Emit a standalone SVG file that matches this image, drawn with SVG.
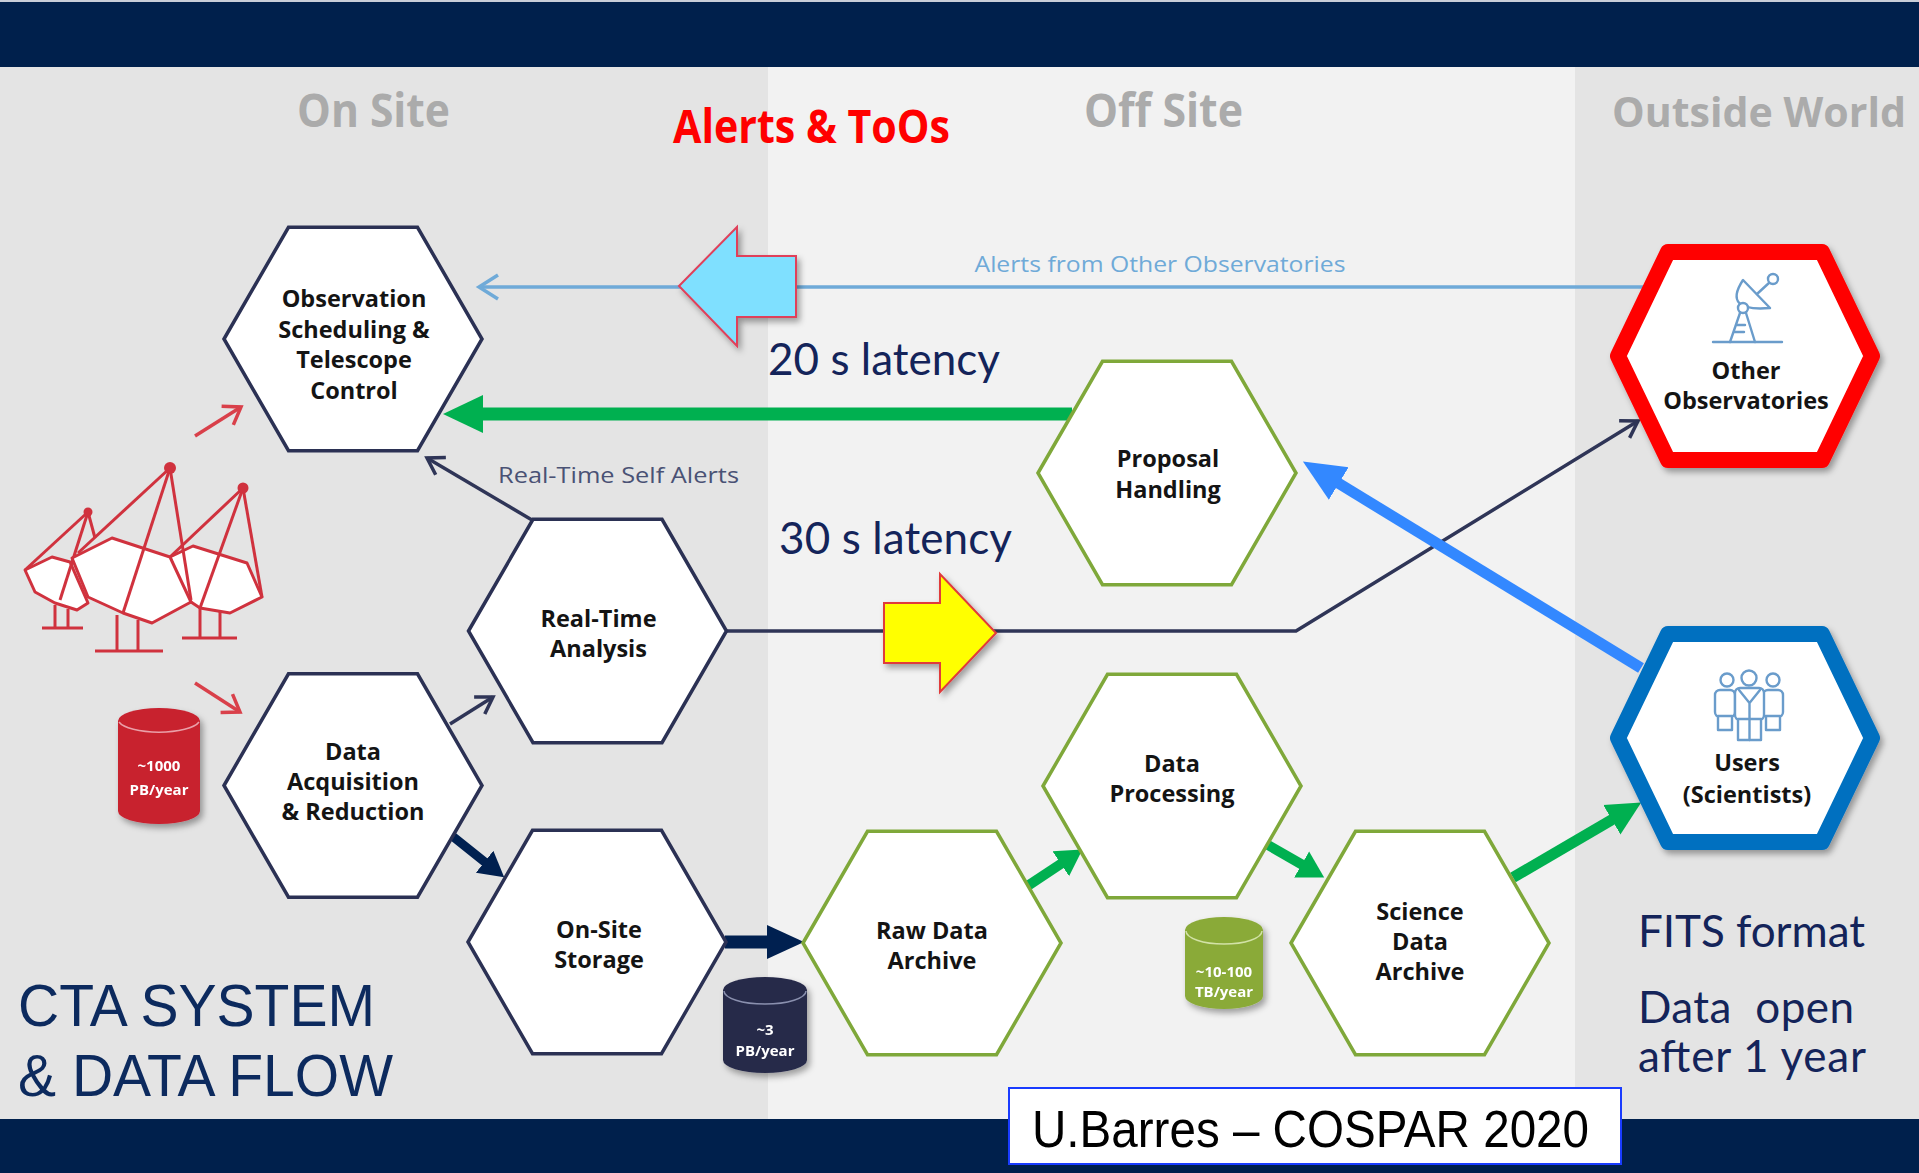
<svg xmlns="http://www.w3.org/2000/svg" width="1919" height="1173" viewBox="0 0 1919 1173">
  <style>
    .zone-text { font-family: "Open Sans", "Noto Sans", sans-serif; font-weight: 700; font-size: 46px; fill: #ABABAB; text-anchor: middle; }
    .node-text { font-family: "Open Sans", "Noto Sans", sans-serif; font-weight: 700; font-size: 23.5px; fill: #141414; text-anchor: middle; }
    .onsite { fill: #FFFFFF; stroke: #2B3154; stroke-width: 3.5; stroke-linejoin: miter; }
    .offsite { fill: #FFFFFF; stroke: #7FA83A; stroke-width: 3.5; }
    .big-text { font-family: Lato, "Open Sans", sans-serif; font-size: 44px; fill: #14245A; }
    .small-label { font-family: "Open Sans", "Noto Sans", sans-serif; font-size: 22px; }
    .cyl-text { font-family: "Open Sans", "Noto Sans", sans-serif; font-weight: 700; font-size: 15px; fill: #FFFFFF; text-anchor: middle; }
    .thin-navy { fill: none; stroke: #2F3557; stroke-width: 3.5; }
    .thin-red { fill: none; stroke: #D9404A; stroke-width: 3.5; }
    .scope { fill: #FFFFFF; stroke: #D0323E; stroke-width: 3; stroke-linejoin: round; }
    .scope-line { fill: none; stroke: #D0323E; stroke-width: 3; }
    .icon { fill: #FFFFFF; stroke: #6A9CCB; stroke-width: 2.4; stroke-linejoin: round; stroke-linecap: round; }
  </style>
  <defs>
    <polygon id="hex" points="-129,0 -64.5,-111.7 64.5,-111.7 129,0 64.5,111.7 -64.5,111.7"/>
    <polygon id="hex-ext" points="-127,0 -77,-104 77,-104 127,0 77,104 -77,104"/>
    <filter id="shadow" x="-20%" y="-20%" width="150%" height="150%">
      <feDropShadow dx="3" dy="4" stdDeviation="3" flood-color="#000000" flood-opacity="0.35"/>
    </filter>
    <!-- open chevron heads -->
    <marker id="chev-navy" markerUnits="userSpaceOnUse" markerWidth="26" markerHeight="26" viewBox="-4 -13 26 26" refX="16" refY="0" orient="auto">
      <path d="M0,-10 L16,0 L0,10" fill="none" stroke="#2F3557" stroke-width="3.5"/>
    </marker>
    <marker id="chev-blue" markerUnits="userSpaceOnUse" markerWidth="28" markerHeight="30" viewBox="-4 -15 28 30" refX="19" refY="0" orient="auto">
      <path d="M0,-12 L19,0 L0,12" fill="none" stroke="#6FAAD8" stroke-width="3.5"/>
    </marker>
    <marker id="chev-red" markerUnits="userSpaceOnUse" markerWidth="26" markerHeight="28" viewBox="-4 -14 26 28" refX="16" refY="0" orient="auto">
      <path d="M0,-11 L16,0 L0,11" fill="none" stroke="#D9404A" stroke-width="3.5"/>
    </marker>
    <!-- filled heads, placed at the end of the shaft -->
    <marker id="head-green-l" markerUnits="userSpaceOnUse" markerWidth="44" markerHeight="44" viewBox="0 -22 44 44" refX="1" refY="0" orient="auto">
      <path d="M0,-19 L40,0 L0,19 Z" fill="#00B050"/>
    </marker>
    <marker id="head-green-m" markerUnits="userSpaceOnUse" markerWidth="38" markerHeight="40" viewBox="0 -20 38 40" refX="1" refY="0" orient="auto">
      <path d="M0,-17 L34,0 L0,17 Z" fill="#00B050"/>
    </marker>
    <marker id="head-green-s" markerUnits="userSpaceOnUse" markerWidth="30" markerHeight="34" viewBox="0 -17 30 34" refX="1" refY="0" orient="auto">
      <path d="M0,-15 L26,0 L0,15 Z" fill="#00B050"/>
    </marker>
    <marker id="head-navy-s" markerUnits="userSpaceOnUse" markerWidth="30" markerHeight="32" viewBox="0 -16 30 32" refX="1" refY="0" orient="auto">
      <path d="M0,-14 L25,0 L0,14 Z" fill="#002050"/>
    </marker>
    <marker id="head-navy-m" markerUnits="userSpaceOnUse" markerWidth="40" markerHeight="38" viewBox="0 -19 40 38" refX="1" refY="0" orient="auto">
      <path d="M0,-17 L37,0 L0,17 Z" fill="#002050"/>
    </marker>
    <marker id="head-blue" markerUnits="userSpaceOnUse" markerWidth="46" markerHeight="44" viewBox="0 -22 46 44" refX="1" refY="0" orient="auto">
      <path d="M0,-19 L42,0 L0,19 Z" fill="#3388FF"/>
    </marker>
  </defs>

  <!-- page background and bands -->
  <g id="background">
    <rect x="0" y="0" width="1919" height="1173" fill="#F2F2F2"/>
    <rect x="0" y="67" width="768" height="1052" fill="#E4E4E4"/>
    <rect x="1575" y="67" width="344" height="1052" fill="#E4E4E4"/>
    <rect x="0" y="0" width="1919" height="67" fill="#00204C"/>
    <rect x="0" y="0" width="1919" height="2" fill="#C9CED8"/>
    <rect x="0" y="1119" width="1919" height="54" fill="#00204C"/>
  </g>

  <!-- zone headings -->
  <g id="headings">
    <text class="zone-text" x="373.5" y="127" textLength="153" lengthAdjust="spacingAndGlyphs">On Site</text>
    <text class="zone-text" x="1163.5" y="127" textLength="159" lengthAdjust="spacingAndGlyphs">Off Site</text>
    <text class="zone-text" x="1759" y="127" textLength="294" lengthAdjust="spacingAndGlyphs" style="font-size:42px">Outside World</text>
    <text class="zone-text" x="811.5" y="143" textLength="277" lengthAdjust="spacingAndGlyphs" style="fill:#FF0000">Alerts &amp; ToOs</text>
  </g>

  <!-- telescope array -->
  <g id="telescopes">
    <!-- left small dish -->
    <polygon class="scope" points="25,570 52,557 70,562 88,603 77,610 55,603 35,592"/>
    <line class="scope-line" x1="88" y1="512" x2="25" y2="570"/>
    <line class="scope-line" x1="88" y1="512" x2="60" y2="600"/>
    <line class="scope-line" x1="88" y1="512" x2="95" y2="538"/>
    <circle cx="88" cy="512" r="4.5" fill="#D0323E"/>
    <path class="scope-line" d="M55,605 V628 M68,609 V628 M42,628 H83"/>
    <!-- right dish -->
    <polygon class="scope" points="170,557 193,546 247,563 262,597 230,613 200,608 185,598"/>
    <line class="scope-line" x1="243" y1="488" x2="170" y2="557"/>
    <line class="scope-line" x1="243" y1="488" x2="200" y2="608"/>
    <line class="scope-line" x1="243" y1="488" x2="262" y2="597"/>
    <circle cx="243" cy="488" r="5.5" fill="#D0323E"/>
    <path class="scope-line" d="M200,608 V638 M220,612 V638 M182,638 H237"/>
    <!-- middle large dish -->
    <polygon class="scope" points="72,558 112,538 170,557 191,602 152,623 123,613 88,597"/>
    <line class="scope-line" x1="170" y1="468" x2="78" y2="553"/>
    <line class="scope-line" x1="170" y1="468" x2="123" y2="613"/>
    <line class="scope-line" x1="170" y1="468" x2="191" y2="600"/>
    <circle cx="170" cy="468" r="6" fill="#D0323E"/>
    <path class="scope-line" d="M117,615 V651 M138,620 V651 M95,651 H163"/>
  </g>

  <!-- storage volume cylinders -->
  <g id="cylinders">
    <g id="cyl-raw" filter="url(#shadow)">
      <path d="M118,721 A41,13 0 0 1 200,721 V811 A41,13 0 0 1 118,811 Z" fill="#C8202F"/>
      <path d="M119,722 A41,13 0 0 0 199,722" fill="none" stroke="#EAA0A8" stroke-width="1.5"/>
      <text class="cyl-text" x="159" y="771">~1000</text>
      <text class="cyl-text" x="159" y="795">PB/year</text>
    </g>
    <g id="cyl-onsite" filter="url(#shadow)">
      <path d="M723,990 A42,13 0 0 1 807,990 V1060 A42,13 0 0 1 723,1060 Z" fill="#262A4A"/>
      <path d="M724,991 A41,13 0 0 0 806,991" fill="none" stroke="#8A90AE" stroke-width="1.5"/>
      <text class="cyl-text" x="765" y="1035">~3</text>
      <text class="cyl-text" x="765" y="1056">PB/year</text>
    </g>
    <g id="cyl-science" filter="url(#shadow)">
      <path d="M1185,930 A39,13 0 0 1 1263,930 V996 A39,13 0 0 1 1185,996 Z" fill="#8AAA38"/>
      <path d="M1186,931 A38,13 0 0 0 1262,931" fill="none" stroke="#D2E2A6" stroke-width="1.5"/>
      <text class="cyl-text" x="1224" y="977">~10-100</text>
      <text class="cyl-text" x="1224" y="997">TB/year</text>
    </g>
  </g>

  <!-- connectors -->
  <g id="connectors">
    <!-- alerts from other observatories -->
    <line x1="1652" y1="287" x2="479" y2="287" stroke="#6FAAD8" stroke-width="3.5" marker-end="url(#chev-blue)"/>
    <text class="small-label" x="1160" y="272" text-anchor="middle" textLength="371" lengthAdjust="spacingAndGlyphs" fill="#6FAAD8">Alerts from Other Observatories</text>
    <!-- proposal handling to scheduling, 20 s -->
    <line x1="1072" y1="414" x2="482" y2="414" stroke="#00B050" stroke-width="13" marker-end="url(#head-green-l)"/>
    <!-- real-time self alerts -->
    <line class="thin-navy" x1="532" y1="520" x2="427" y2="458" marker-end="url(#chev-navy)"/>
    <text class="small-label" x="618.5" y="483" text-anchor="middle" textLength="241" lengthAdjust="spacingAndGlyphs" fill="#4A5275">Real-Time Self Alerts</text>
    <!-- RTA to other observatories -->
    <polyline class="thin-navy" points="727,631 1296,631 1638,421" marker-end="url(#chev-navy)"/>
    <!-- acquisition to RTA -->
    <line class="thin-navy" x1="450" y1="724" x2="493" y2="697" marker-end="url(#chev-navy)"/>
    <!-- telescope outputs -->
    <line class="thin-red" x1="195" y1="436" x2="241" y2="407" marker-end="url(#chev-red)"/>
    <line class="thin-red" x1="195" y1="683" x2="240" y2="712" marker-end="url(#chev-red)"/>
    <!-- acquisition to on-site storage -->
    <line x1="451" y1="835" x2="485.4" y2="862.4" stroke="#002050" stroke-width="9" marker-end="url(#head-navy-s)"/>
    <!-- on-site storage to raw data archive -->
    <line x1="725" y1="942" x2="768" y2="942" stroke="#002050" stroke-width="13" marker-end="url(#head-navy-m)"/>
    <!-- raw data archive to data processing -->
    <line x1="1026" y1="887" x2="1061.6" y2="863.3" stroke="#00B050" stroke-width="10" marker-end="url(#head-green-s)"/>
    <!-- data processing to science data archive -->
    <line x1="1261" y1="841" x2="1302.5" y2="864.9" stroke="#00B050" stroke-width="10" marker-end="url(#head-green-s)"/>
    <!-- science data archive to users -->
    <line x1="1513" y1="877.5" x2="1612.7" y2="819.2" stroke="#00B050" stroke-width="11" marker-end="url(#head-green-m)"/>
    <!-- users to proposal handling -->
    <line x1="1641" y1="668" x2="1337.9" y2="482.9" stroke="#3388FF" stroke-width="11" marker-end="url(#head-blue)"/>
  </g>

  <!-- latency call-outs -->
  <g id="callouts">
    <polygon points="679,286 737,227 737,256 796,256 796,317 737,317 737,346" fill="#7FE0FF" stroke="#E0405A" stroke-width="2" filter="url(#shadow)"/>
    <polygon points="884,603 940,603 940,574 996,633 940,692 940,663 884,663" fill="#FFFF00" stroke="#E03A3A" stroke-width="2" filter="url(#shadow)"/>
    <text class="big-text" x="768" y="375" textLength="232">20 s latency</text>
    <text class="big-text" x="779" y="554" textLength="233">30 s latency</text>
  </g>

  <!-- on-site nodes -->
  <g id="node-scheduling">
    <use href="#hex" x="353" y="339" class="onsite"/>
    <text class="node-text" x="354" y="307">Observation</text>
    <text class="node-text" x="354" y="338">Scheduling &amp;</text>
    <text class="node-text" x="354" y="368">Telescope</text>
    <text class="node-text" x="354" y="399">Control</text>
  </g>
  <g id="node-rta">
    <use href="#hex" x="597.5" y="631" class="onsite"/>
    <text class="node-text" x="598.5" y="627">Real-Time</text>
    <text class="node-text" x="598.5" y="657">Analysis</text>
  </g>
  <g id="node-acquisition">
    <use href="#hex" x="353" y="785.5" class="onsite"/>
    <text class="node-text" x="353" y="760">Data</text>
    <text class="node-text" x="353" y="790">Acquisition</text>
    <text class="node-text" x="353" y="820">&amp; Reduction</text>
  </g>
  <g id="node-storage">
    <use href="#hex" x="597" y="942" class="onsite"/>
    <text class="node-text" x="599" y="938">On-Site</text>
    <text class="node-text" x="599" y="968">Storage</text>
  </g>

  <!-- off-site nodes -->
  <g id="node-raw-archive">
    <use href="#hex" x="932" y="943" class="offsite"/>
    <text class="node-text" x="932" y="939">Raw Data</text>
    <text class="node-text" x="932" y="969">Archive</text>
  </g>
  <g id="node-processing">
    <use href="#hex" x="1172" y="786" class="offsite"/>
    <text class="node-text" x="1172" y="772">Data</text>
    <text class="node-text" x="1172" y="802">Processing</text>
  </g>
  <g id="node-science-archive">
    <use href="#hex" x="1420" y="943" class="offsite"/>
    <text class="node-text" x="1420" y="920">Science</text>
    <text class="node-text" x="1420" y="950">Data</text>
    <text class="node-text" x="1420" y="980">Archive</text>
  </g>
  <g id="node-proposal">
    <use href="#hex" x="1167" y="473" class="offsite"/>
    <text class="node-text" x="1168" y="467">Proposal</text>
    <text class="node-text" x="1168" y="498">Handling</text>
  </g>

  <!-- outside world nodes -->
  <g id="node-other-observatories">
    <use href="#hex-ext" x="1745" y="356" fill="#FFFFFF" stroke="#FF0000" stroke-width="16" stroke-linejoin="round" filter="url(#shadow)"/>
    <g class="icon">
      <path d="M1713,342 H1782"/>
      <path d="M1743,280 Q1722,312 1770,308 Z"/>
      <path d="M1757,294 L1770,282"/>
      <circle cx="1773" cy="279" r="5"/>
      <circle cx="1743" cy="308" r="5"/>
      <path d="M1740,313 L1730,342 M1746,313 L1755,342 M1737,325 H1745 M1735,332 H1744"/>
    </g>
    <text class="node-text" x="1746" y="379">Other</text>
    <text class="node-text" x="1746" y="409">Observatories</text>
  </g>
  <g id="node-users">
    <use href="#hex-ext" x="1745" y="738" fill="#FFFFFF" stroke="#0070C0" stroke-width="16" stroke-linejoin="round" filter="url(#shadow)"/>
    <g class="icon">
      <circle cx="1727" cy="680" r="6.5"/>
      <circle cx="1773" cy="680" r="6.5"/>
      <rect x="1715" y="690" width="20" height="27" rx="5"/>
      <rect x="1718" y="716" width="14" height="14"/>
      <rect x="1763" y="690" width="20" height="27" rx="5"/>
      <rect x="1766" y="716" width="14" height="14"/>
      <circle cx="1749" cy="678" r="7.5"/>
      <rect x="1735" y="688" width="29" height="32" rx="5"/>
      <rect x="1738" y="719" width="23" height="21"/>
      <path d="M1749.5,719 V740 M1739,690 L1749.5,703 L1760,690 M1749.5,703 V718"/>
    </g>
    <text class="node-text" x="1747" y="771">Users</text>
    <text class="node-text" x="1747" y="803">(Scientists)</text>
  </g>

  <!-- titles and notes -->
  <g id="titles">
    <text x="18" y="1026" font-family="'Liberation Sans', Arial, sans-serif" font-size="59" fill="#0C2A5E" textLength="357" lengthAdjust="spacingAndGlyphs">CTA SYSTEM</text>
    <text x="18" y="1096" font-family="'Liberation Sans', Arial, sans-serif" font-size="59" fill="#0C2A5E" textLength="375" lengthAdjust="spacingAndGlyphs">&amp; DATA FLOW</text>
    <text class="big-text" x="1638" y="947" textLength="227">FITS format</text>
    <text class="big-text" x="1638" y="1023" textLength="216" xml:space="preserve">Data  open</text>
    <text class="big-text" x="1638" y="1072" textLength="228">after 1 year</text>
  </g>

  <g id="credit">
    <rect x="1009" y="1088" width="612" height="76" fill="#FFFFFF" stroke="#1A3CFF" stroke-width="2"/>
    <text x="1032" y="1147" font-family="'Liberation Sans', Arial, sans-serif" font-size="52" fill="#000000" textLength="557" lengthAdjust="spacingAndGlyphs">U.Barres – COSPAR 2020</text>
  </g>
</svg>
